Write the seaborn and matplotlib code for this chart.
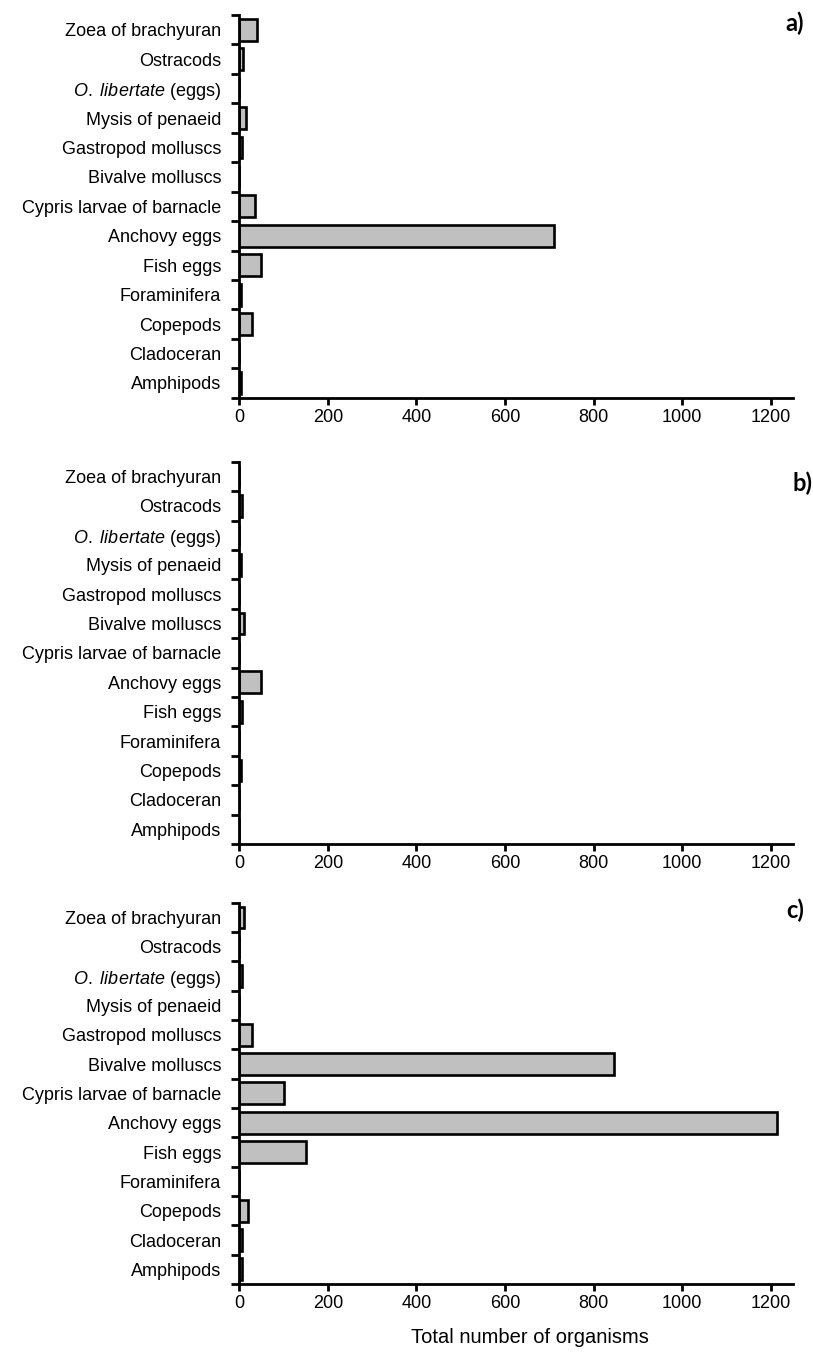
import numpy as np
import pandas as pd
import matplotlib
matplotlib.use("Agg")
import matplotlib.pyplot as plt
import seaborn as sns

# Prey items found in the stomach contents (top to bottom as plotted)
categories = [
    "Zoea of brachyuran",
    "Ostracods",
    "O. libertate (eggs)",
    "Mysis of penaeid",
    "Gastropod molluscs",
    "Bivalve molluscs",
    "Cypris larvae of barnacle",
    "Anchovy eggs",
    "Fish eggs",
    "Foraminifera",
    "Copepods",
    "Cladoceran",
    "Amphipods",
]

# Total number of organisms per panel
counts_a = [40, 8, 0, 16, 5, 0, 36, 710, 48, 4, 29, 0, 4]
counts_b = [0, 7, 0, 4, 0, 11, 0, 48, 7, 0, 3, 0, 0]
counts_c = [10, 0, 5, 0, 28, 845, 100, 1215, 151, 0, 20, 5, 5]

panel_tags = ["a)", "b)", "c)"]
x_ticks = [0, 200, 400, 600, 800, 1000, 1200]
x_label = "Total number of organisms"

sns.set_style("ticks")
plt.rcParams["font.family"] = ["Liberation Sans", "DejaVu Sans"]
plt.rcParams["mathtext.fontset"] = "custom"
plt.rcParams["mathtext.rm"] = "Liberation Sans"
plt.rcParams["mathtext.it"] = "Liberation Sans:italic"
plt.rcParams["text.color"] = "black"
plt.rcParams["xtick.color"] = "black"
plt.rcParams["ytick.color"] = "black"
plt.rcParams["axes.labelcolor"] = "black"


def tick_text(name):
    if name.startswith("O. libertate"):
        return r"$\mathit{O.\ libertate}$ (eggs)"
    return name


W, H = 813, 1352
fig = plt.figure(figsize=(W / 100, H / 100), dpi=100)

# axes boxes in pixels: (top, bottom) of each panel
boxes = [(15, 397.7), (461.7, 844), (902.7, 1284)]
left_px, right_px = 239.3, 793
tag_pos = [(804, 23), (812, 483), (804, 910)]

for i, (counts, (top, bot)) in enumerate(zip([counts_a, counts_b, counts_c], boxes)):
    ax = fig.add_axes([left_px / W, 1 - bot / H, (right_px - left_px) / W, (bot - top) / H])
    df = pd.DataFrame({"category": categories, "count": counts})
    sns.barplot(
        data=df, x="count", y="category", order=categories, orient="h",
        color="#C0C0C0", saturation=1, edgecolor="black", linewidth=1.9,
        width=0.74, ax=ax,
    )
    n = len(categories)
    ax.set_xlim(0, 1250)
    ax.set_ylim(n - 0.5, -0.5)

    # tick marks at category boundaries, labels at category centres
    ax.set_yticks(np.arange(-0.5, n, 1.0))
    ax.set_yticklabels([])
    ax.set_yticks(np.arange(n), minor=True)
    ax.set_yticklabels([tick_text(c) for c in categories], minor=True, fontsize=13)
    ax.tick_params(axis="y", which="minor", length=0, pad=13)
    ax.tick_params(axis="y", which="major", direction="out", length=6, width=2)

    ax.set_xticks(x_ticks)
    ax.set_xticklabels([str(t) for t in x_ticks], fontsize=13)
    ax.tick_params(axis="x", which="major", direction="out", length=5, width=2, pad=3)

    ax.set_xlabel("")
    ax.set_ylabel("")
    for side in ("top", "right"):
        ax.spines[side].set_visible(False)
    for side in ("left", "bottom"):
        ax.spines[side].set_linewidth(2.0)
        ax.spines[side].set_color("black")
    ax.set_facecolor("white")

    tx, ty = tag_pos[i]
    fig.text(tx / W, 1 - ty / H, panel_tags[i], ha="right", va="center",
             fontsize=17, fontweight="bold", family=["Lato", "DejaVu Sans"])

    if i == 2:
        ax.set_xlabel(x_label, fontsize=14.5)
        ax.xaxis.set_label_coords((530 - left_px) / (right_px - left_px), -0.115)

fig.savefig("out.png", dpi=100, facecolor="white")
